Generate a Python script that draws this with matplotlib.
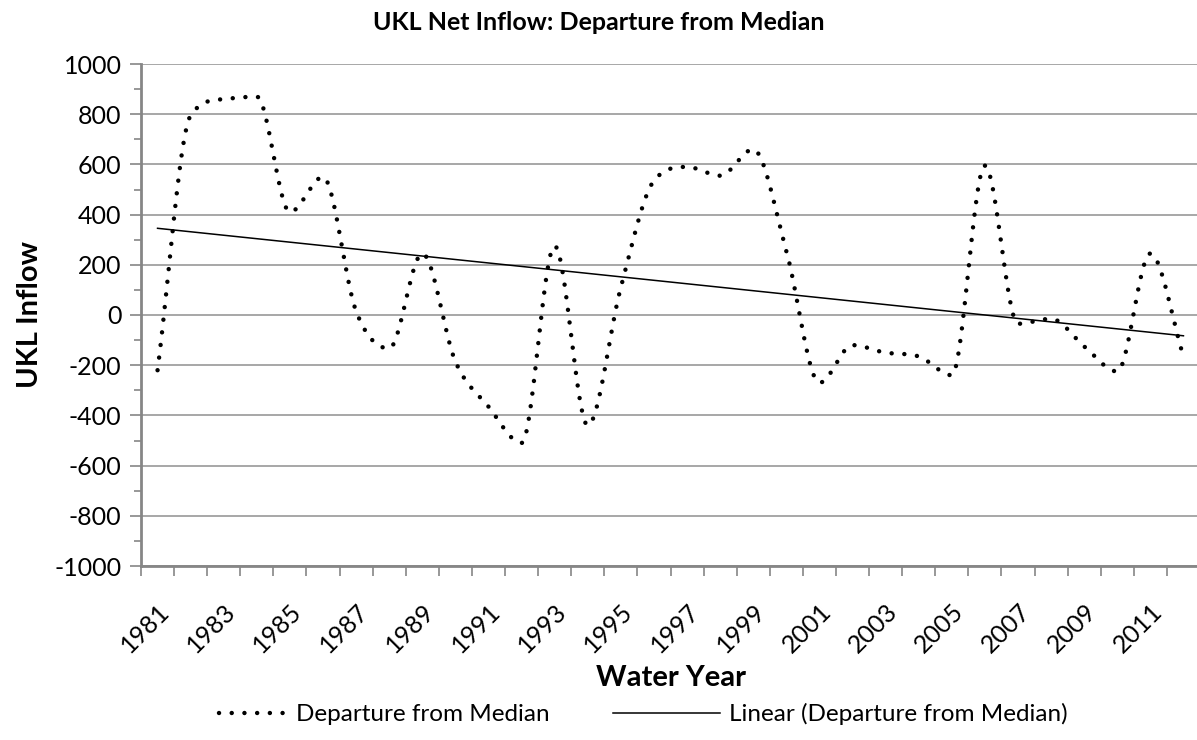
import numpy as np
import matplotlib
matplotlib.use("Agg")
import matplotlib.pyplot as plt
from matplotlib.legend_handler import HandlerLine2D

plt.rcParams['font.family'] = ['Lato', 'DejaVu Sans']
plt.rcParams['axes.unicode_minus'] = False

# Data
years = list(range(1981, 2013))
departure = [-220, 795, 860, 870, 410, 550, 15, -133, 245, -185,
             -365, -510, 275, -440, 110, 535, 590, 555, 660, 255,
             -270, -120, -150, -165, -240, 595, -35, -15, -125, -225,
             245, -165]
tick_years = [str(y) for y in years[::2]]

x = np.arange(len(years), dtype=float)
y = np.array(departure, dtype=float)


# smoothed line through the points: Catmull-Rom tangents, limited so the
# curve does not overshoot (Fritsch-Carlson)
def smooth(ys, n=40):
    d = np.diff(ys)
    m = np.empty_like(ys)
    m[1:-1] = (ys[2:] - ys[:-2]) / 2
    m[0], m[-1] = d[0], d[-1]
    for i in range(1, len(ys) - 1):
        if d[i - 1] * d[i] <= 0:
            m[i] = 0
    for k in range(len(d)):
        if d[k] == 0:
            m[k] = m[k + 1] = 0
            continue
        a, b = m[k] / d[k], m[k + 1] / d[k]
        s = a * a + b * b
        if s > 9:
            t = 3 / np.sqrt(s)
            m[k], m[k + 1] = t * a * d[k], t * b * d[k]
    t = np.linspace(0, 1, n, endpoint=False)
    h00 = 2 * t**3 - 3 * t**2 + 1
    h10 = t**3 - 2 * t**2 + t
    h01 = -2 * t**3 + 3 * t**2
    h11 = t**3 - t**2
    sx, sy = [], []
    for k in range(len(d)):
        sx.extend(k + t)
        sy.extend(h00 * ys[k] + h10 * m[k] + h01 * ys[k + 1] + h11 * m[k + 1])
    sx.append(len(ys) - 1)
    sy.append(ys[-1])
    return np.array(sx), np.array(sy)


# shorter legend sample for the dotted series
class ShortHandle(HandlerLine2D):
    def create_artists(self, legend, orig_handle, xdescent, ydescent,
                       width, height, fontsize, trans):
        return super().create_artists(legend, orig_handle,
                                      xdescent - width * 0.36, ydescent,
                                      width * 0.64, height, fontsize, trans)


sx, sy = smooth(y)

# linear trend
k, b = np.polyfit(x, y, 1)

fig = plt.figure(figsize=(11.97, 7.4), dpi=100)
ax = fig.add_axes([141 / 1197, 1 - 566 / 740, 1059 / 1197, 502 / 740])

dots, = ax.plot(sx, sy, color='black', lw=3.2, linestyle=(0, (0.01, 2.85)),
                dash_capstyle='round', label='Departure from Median', zorder=3)
ax.plot(x, k * x + b, color='black', lw=1.1,
        label='Linear (Departure from Median)', zorder=4)

ax.set_xlim(-0.5, len(years) - 0.5)
ax.set_ylim(-1000, 1000)
ax.set_yticks(np.arange(-1000, 1001, 200))
ax.set_yticks(np.arange(-900, 1000, 200), minor=True)
ax.yaxis.grid(True, color='#a0a0a0', lw=1.3)
ax.set_axisbelow(True)

ax.set_xticks(np.arange(-0.5, len(years), 1))
ax.set_xticklabels([])
ax.set_xticks(x[::2], minor=True)
ax.set_xticklabels(tick_years, minor=True, rotation=45, ha='right',
                   va='top', rotation_mode='anchor', fontsize=18)
ax.tick_params(axis='x', which='major', length=7, width=1.2, color='#868686')
ax.tick_params(axis='x', which='minor', length=0, pad=24)
ax.tick_params(axis='y', which='major', length=8, width=1.2,
               color='#868686', labelsize=18, pad=6)
ax.tick_params(axis='y', which='minor', length=5, width=1.2, color='#868686')

for s in ('top', 'right'):
    ax.spines[s].set_visible(False)
for s in ('left', 'bottom'):
    ax.spines[s].set_color('#868686')
    ax.spines[s].set_linewidth(2)

fig.text(599 / 1197, 1 - 23 / 740, 'UKL Net Inflow: Departure from Median',
         fontsize=18, fontweight='bold', ha='center', va='center')
ax.set_ylabel('UKL Inflow', fontsize=21, fontweight='bold', labelpad=8)
ax.set_xlabel('Water Year', fontsize=21, fontweight='bold', labelpad=6)

fig.legend(loc='center', bbox_to_anchor=(624 / 1197, 1 - 714 / 740), ncol=2,
           frameon=False, fontsize=17.5, handlelength=4.4, columnspacing=2.6,
           handletextpad=0.35, handler_map={dots: ShortHandle()})

fig.savefig('out.png', dpi=100)
